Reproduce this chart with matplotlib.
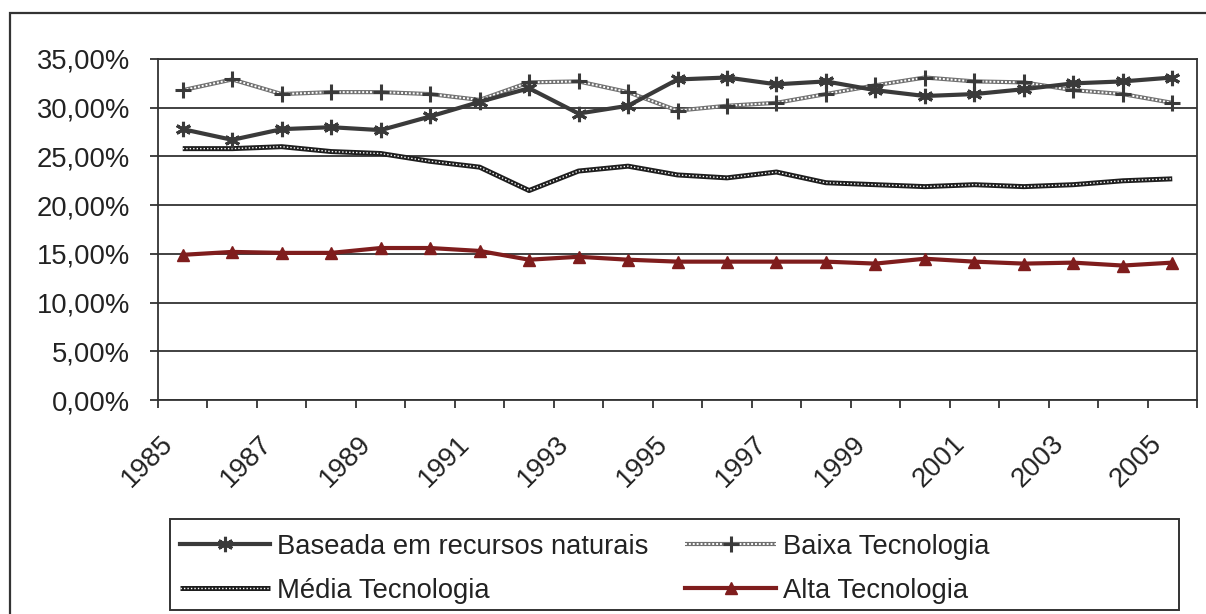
import matplotlib
matplotlib.use("Agg")
import matplotlib.pyplot as plt
from matplotlib.patches import Rectangle
from matplotlib.legend_handler import HandlerTuple
from matplotlib.transforms import ScaledTranslation
import numpy as np

years = list(range(1985, 2006))
baseada = [27.8, 26.7, 27.8, 28.0, 27.7, 29.1, 30.6, 32.0, 29.4, 30.2,
           32.9, 33.1, 32.4, 32.7, 31.8, 31.2, 31.4, 31.9, 32.5, 32.7, 33.1]
baixa = [31.8, 32.9, 31.4, 31.6, 31.6, 31.4, 30.8, 32.6, 32.7, 31.6,
         29.7, 30.2, 30.5, 31.4, 32.3, 33.1, 32.7, 32.6, 31.8, 31.4, 30.5]
media = [25.8, 25.8, 26.0, 25.5, 25.3, 24.5, 23.9, 21.5, 23.5, 24.0,
         23.1, 22.8, 23.4, 22.3, 22.1, 21.9, 22.1, 21.9, 22.1, 22.5, 22.7]
alta = [14.9, 15.2, 15.1, 15.1, 15.6, 15.6, 15.3, 14.4, 14.7, 14.4,
        14.2, 14.2, 14.2, 14.2, 14.0, 14.5, 14.2, 14.0, 14.1, 13.8, 14.1]
labels = ["Baseada em recursos naturais", "Baixa Tecnologia",
          "Média Tecnologia", "Alta Tecnologia"]
ytick_vals = [0, 5, 10, 15, 20, 25, 30, 35]
ytick_labels = ["0,00%", "5,00%", "10,00%", "15,00%", "20,00%", "25,00%",
                "30,00%", "35,00%"]

plt.rcParams['font.family'] = ['Liberation Sans', 'DejaVu Sans']
W, H = 1206, 614
fig = plt.figure(figsize=(W / 100, H / 100), dpi=100)
ax = fig.add_axes([158 / W, 1 - 400 / H, (1197 - 158) / W, (400 - 59) / H])

x = np.arange(len(years))
dark = '#333333'
red = '#7f1d1d'
fs = 19.7

# Média Tecnologia (dark checkered)
m1, = ax.plot(x, media, color='#1e1e1e', lw=3.6, solid_capstyle='butt', zorder=3)
m2, = ax.plot(x, media, color='white', lw=1.0, ls=(0, (1.0, 1.5)), zorder=3.1)
# Baixa Tecnologia (light checkered with +)
b1, = ax.plot(x, baixa, color='#707070', lw=3.0, solid_capstyle='butt', zorder=4)
b2, = ax.plot(x, baixa, color='white', lw=1.4, ls=(0, (1.0, 1.0)), zorder=4.1)
b3, = ax.plot(x, baixa, ls='none', marker='+', ms=11, mew=2.2, color='#3a3a3a', zorder=4.2)
# Baseada (solid dark with asterisk)
s1, = ax.plot(x, baseada, color='#3a3a3a', lw=3.0, marker=(6, 2, 0), ms=11,
              mew=2.2, zorder=5)
# Alta (dark red with triangles)
a1, = ax.plot(x, alta, color=red, lw=3.0, marker='^', ms=8, zorder=6)

ax.set_xlim(-0.5, len(years) - 0.5)
ax.set_ylim(0, 35)
ax.set_yticks(ytick_vals)
ax.set_yticklabels(ytick_labels, fontsize=fs, color='#222222')
ax.yaxis.grid(True, color=dark, lw=1.3)
ax.set_axisbelow(True)

ax.set_xticks(np.arange(-0.5, len(years), 1.0))
ax.set_xticklabels([])
ax.set_xticks(x[::2], minor=True)
ax.set_xticklabels([str(y) for y in years[::2]], minor=True, fontsize=fs,
                   rotation=45, ha='right', va='top', rotation_mode='anchor',
                   color='#222222')
ax.tick_params(axis='x', which='minor', length=0, pad=22)
ax.tick_params(axis='x', which='major', length=6, width=1.3, color=dark, direction='out')
ax.tick_params(axis='y', length=6, width=1.3, color=dark, pad=14)
for lab in ax.get_xticklabels(minor=True):
    lab.set_transform(lab.get_transform() + ScaledTranslation(-0.23, 0, fig.dpi_scale_trans))
for sp in ax.spines.values():
    sp.set_color(dark)
    sp.set_linewidth(1.3)

# Outer frame
fig.patches.append(Rectangle((10 / W, -0.05), 1.2, 1 - 13 / H + 0.05,
                             transform=fig.transFigure, fill=False,
                             edgecolor=dark, lw=1.6, zorder=0))
# Legend frame
fig.patches.append(Rectangle((170 / W, 1 - 610 / H), (1179 - 170) / W, (610 - 519) / H,
                             transform=fig.transFigure, fill=False,
                             edgecolor=dark, lw=1.4, zorder=1))

handles = [(s1,), (m1, m2), (b1, b2, b3), (a1,)]
hl = [labels[0], labels[2], labels[1], labels[3]]
leg = fig.legend(handles, hl, handler_map={tuple: HandlerTuple(ndivide=1, pad=0)},
                 loc='upper left', bbox_to_anchor=(180 / W, 1 - 534 / H),
                 ncol=2, frameon=False, fontsize=fs, borderpad=0, borderaxespad=0,
                 handlelength=3.3, handletextpad=0.25, columnspacing=1.35,
                 labelspacing=0.66, numpoints=1)
for t in leg.get_texts():
    t.set_color('#222222')

fig.savefig('out.png', dpi=100)
